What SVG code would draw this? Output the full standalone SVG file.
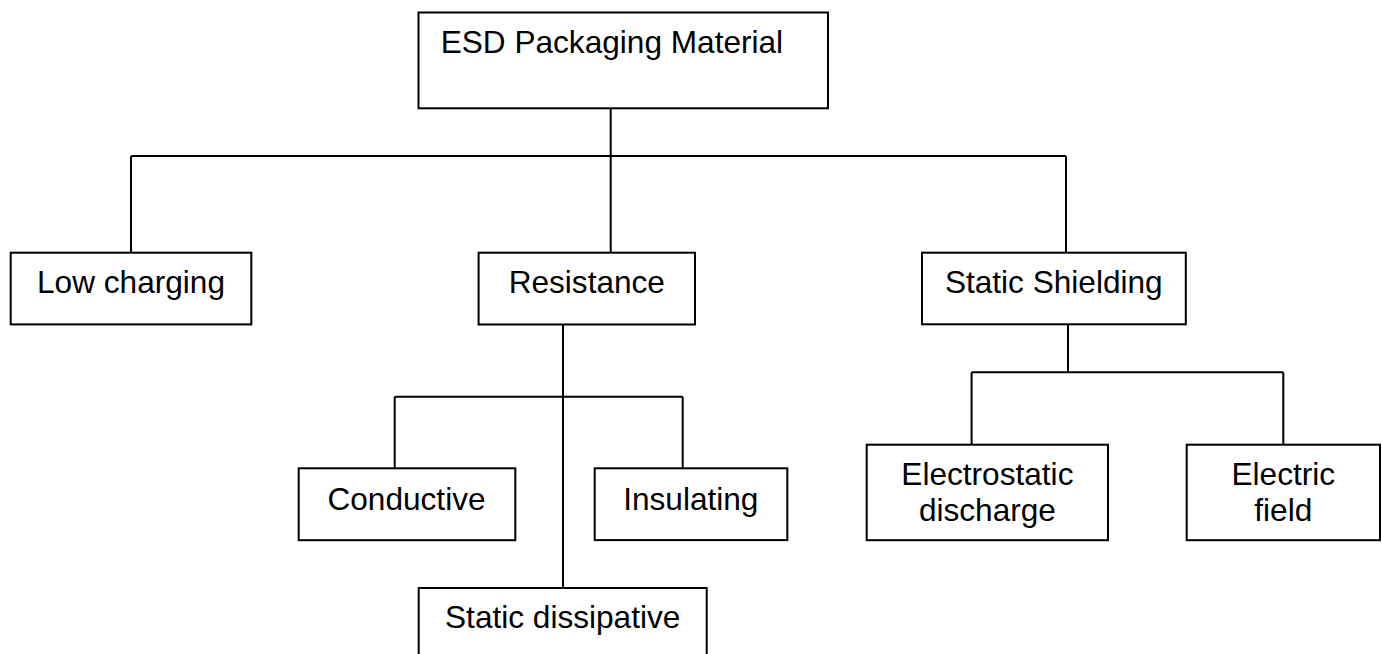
<svg xmlns="http://www.w3.org/2000/svg" width="1382" height="654" viewBox="0 0 1382 654">
<style>
.box{fill:#fff;stroke:#000;stroke-width:2}
.c{fill:none;stroke:#000;stroke-width:2}
text{font-family:"Liberation Sans",Arial,sans-serif;font-size:31.6px;fill:#000}
.m{text-anchor:middle}
</style>
<rect width="1382" height="654" fill="#fff"/>
<g id="connectors">
<path class="c" d="M610.7,108.3 V252.7 M131,156 H1066 M131,156 V252.7 M1066,156 V252.7"/>
<path class="c" d="M563,324.5 V588 M394.7,396.7 H682.7 M394.7,396.7 V468.3 M682.7,396.7 V468.3"/>
<path class="c" d="M1068,324.3 V372.3 M971.6,372.3 H1283.3 M971.6,372.3 V444.7 M1283.3,372.3 V444.7"/>
</g>
<g id="root"><rect class="box" x="418.5" y="12.5" width="409.5" height="95.8"/><text x="440.7" y="53.3">ESD Packaging Material</text></g>
<g id="low-charging"><rect class="box" x="10.7" y="252.7" width="240.6" height="71.7"/><text class="m" x="131" y="292.7">Low charging</text></g>
<g id="resistance"><rect class="box" x="478.6" y="252.7" width="216.4" height="71.8"/><text class="m" x="586.8" y="293">Resistance</text></g>
<g id="static-shielding"><rect class="box" x="922" y="252.7" width="263.8" height="71.6"/><text class="m" x="1053.8" y="293">Static Shielding</text></g>
<g id="conductive"><rect class="box" x="298.7" y="468.3" width="216.6" height="71.9"/><text class="m" x="406.5" y="510">Conductive</text></g>
<g id="insulating"><rect class="box" x="594.7" y="468.3" width="192.6" height="71.8"/><text class="m" x="690.8" y="510">Insulating</text></g>
<g id="static-dissipative"><rect class="box" x="418.7" y="588" width="288" height="80"/><text class="m" x="562.7" y="628.3">Static dissipative</text></g>
<g id="electrostatic-discharge"><rect class="box" x="866.7" y="444.7" width="241.3" height="95.5"/><text class="m" x="987.4" y="484.5">Electrostatic</text><text class="m" x="987.4" y="520.5">discharge</text></g>
<g id="electric-field"><rect class="box" x="1186.7" y="444.7" width="193.3" height="95.5"/><text class="m" x="1283.3" y="484.5">Electric</text><text class="m" x="1283.3" y="520.5">field</text></g>
</svg>
